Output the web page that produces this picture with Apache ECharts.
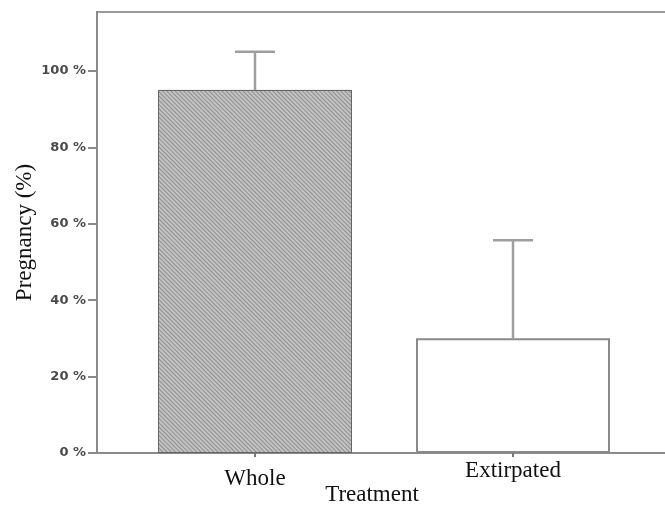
<!DOCTYPE html>
<html>
<head>
<meta charset="utf-8">
<script src="https://cdn.jsdelivr.net/npm/echarts@6/dist/echarts.min.js"></script>
<style>html,body{margin:0;padding:0;background:#fff;}#c{width:665px;height:508px;}</style>
</head>
<body>
<div id="c"></div>
<script>
var categories = ['Whole', 'Extirpated'];
var meanValues = [95, 30];
var upperValues = [105, 55.7];
var yTicks = [0, 20, 40, 60, 80, 100];

var chart = echarts.init(document.getElementById('c'), null, {renderer: 'canvas'});
var serif = '"Liberation Serif", "Times New Roman", serif';
var barStyles = [
  {color: '#c2c2c2', borderColor: '#666666', borderWidth: 1,
   decal: {symbol: 'rect', symbolSize: 1, color: '#909090', dashArrayX: [1, 0], dashArrayY: [1, 2], rotation: Math.PI / 4}},
  {color: '#ffffff', borderColor: '#8a8a8a', borderWidth: 2}
];
var errData = categories.map(function (c, i) { return [i, meanValues[i], upperValues[i]]; });

chart.setOption({
  animation: false,
  grid: [
    {left: 97, right: -30, top: 12, bottom: 55, outerBoundsMode: 'none', containLabel: false,
     show: true, borderColor: '#9a9a9a', borderWidth: 2, backgroundColor: 'transparent'},
    {left: 126, right: 23, top: 12, bottom: 55, outerBoundsMode: 'none', containLabel: false}
  ],
  xAxis: [
    {gridIndex: 0, type: 'value', min: 0, max: 1,
     axisLine: {show: true, lineStyle: {color: '#8a8a8a', width: 2}},
     axisTick: {show: false}, axisLabel: {show: false}, splitLine: {show: false},
     name: 'Treatment', nameLocation: 'middle', nameGap: 30,
     nameTextStyle: {fontFamily: serif, fontSize: 23, color: '#111', padding: [0, 48, 0, 0]}},
    {gridIndex: 1, type: 'category', data: categories,
     axisLine: {show: false},
     axisTick: {show: true, alignWithLabel: true, length: 4, lineStyle: {color: '#777', width: 2}},
     axisLabel: {margin: 6, fontFamily: serif, fontSize: 23, color: '#111',
       formatter: function (v, i) { return i === 0 ? '{a|' + v + '}' : '{b|' + v + '}'; },
       rich: {a: {fontFamily: serif, fontSize: 23, color: '#111', padding: [8, 0, 0, 0]},
              b: {fontFamily: serif, fontSize: 23, color: '#111', padding: [0, 0, 0, 0]}}}}
  ],
  yAxis: [
    {gridIndex: 0, type: 'value', min: 0, max: 115.4, interval: 20,
     axisLine: {show: true, lineStyle: {color: '#8a8a8a', width: 2}},
     axisTick: {show: true, length: 9, lineStyle: {color: '#8a8a8a', width: 2},
       customValues: yTicks},
     axisLabel: {margin: 11, fontFamily: '"DejaVu Sans", Verdana, sans-serif', fontSize: 13, fontWeight: 'bold', color: '#4a4a4a',
       customValues: yTicks,
       formatter: function (v) { return v + ' %'; }},
     splitLine: {show: false},
     name: 'Pregnancy (%)', nameLocation: 'middle', nameGap: 61, nameMoveOverlap: false,
     nameTextStyle: {fontFamily: serif, fontSize: 23, color: '#111'}},
    {gridIndex: 1, type: 'value', min: 0, max: 115.4, show: false, splitLine: {show: false}}
  ],
  series: [
    {type: 'bar', xAxisIndex: 1, yAxisIndex: 1, barWidth: 194,
     data: meanValues.map(function (v, i) { return {value: v, itemStyle: barStyles[i]}; })},
    {type: 'custom', xAxisIndex: 1, yAxisIndex: 1, z: 1,
     data: errData,
     renderItem: function (params, api) {
       var x = api.value(0);
       var p0 = api.coord([x, api.value(1)]);
       var p1 = api.coord([x, api.value(2)]);
       var style = {stroke: '#9e9e9e', lineWidth: 2.5};
       return {type: 'group', children: [
         {type: 'line', shape: {x1: p0[0], y1: p0[1], x2: p1[0], y2: p1[1]}, style: style},
         {type: 'line', shape: {x1: p1[0] - 20, y1: p1[1], x2: p1[0] + 20, y2: p1[1]}, style: style}
       ]};
     }}
  ]
});
</script>
</body>
</html>
